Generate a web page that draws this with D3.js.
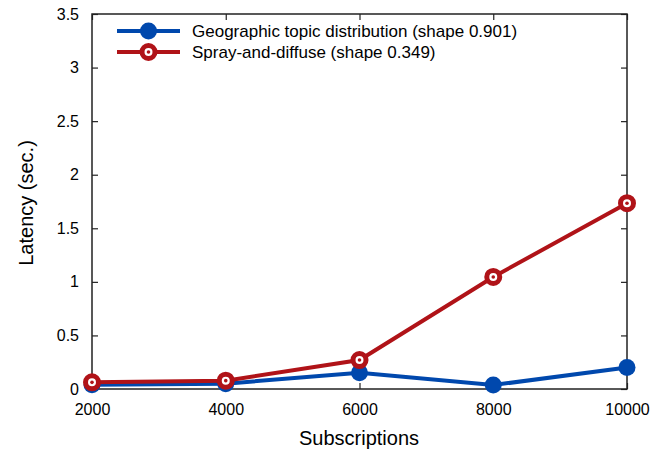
<!DOCTYPE html>
<html><head><meta charset="utf-8">
<script src="https://cdn.jsdelivr.net/npm/d3@7"></script>
<style>body{margin:0;background:#fff}svg{display:block;font-family:"Liberation Sans",Arial,sans-serif}</style>
</head><body><svg id="c" width="664" height="450"></svg>
<script>
const subscriptions = [2000, 4000, 6000, 8000, 10000];
const geoValues = [0.04, 0.05, 0.152, 0.037, 0.20];
const sprayValues = [0.062, 0.078, 0.27, 1.046, 1.734];
const seriesNames = ["Geographic topic distribution (shape 0.901)", "Spray-and-diffuse (shape 0.349)"];
const yTicks = [0, 0.5, 1, 1.5, 2, 2.5, 3, 3.5];

const svg = d3.select("#c");
const m = {l: 92, r: 627, t: 14, b: 389};
const x = d3.scaleLinear().domain([2000, 10000]).range([m.l, m.r]);
const y = d3.scaleLinear().domain([0, 3.5]).range([m.b, m.t]);
const blue = "#0048ad", red = "#b01318";

const g = svg.append("g");
const ax = (sel) => { sel.select(".domain").remove(); sel.selectAll("line").attr("stroke", "#222").attr("stroke-width", 1.2); sel.selectAll("text").attr("fill", "#000").style("font-size", "16px"); };
g.append("g").attr("transform", `translate(0,${m.b})`).call(d3.axisBottom(x).tickValues(subscriptions).tickFormat(d3.format("d")).tickSize(-6).tickPadding(15)).call(ax);
g.append("g").attr("transform", `translate(0,${m.t})`).call(d3.axisTop(x).tickValues(subscriptions).tickFormat("").tickSize(-6)).call(ax);
g.append("g").attr("transform", `translate(${m.l},0)`).call(d3.axisLeft(y).tickValues(yTicks).tickFormat(d => d3.format("")(d)).tickSize(-6).tickPadding(13)).call(ax);
g.append("g").attr("transform", `translate(${m.r},0)`).call(d3.axisRight(y).tickValues(yTicks).tickFormat("").tickSize(-6)).call(ax);
svg.append("rect").attr("x", m.l).attr("y", m.t).attr("width", m.r - m.l).attr("height", m.b - m.t).attr("fill", "none").attr("stroke", "#222").attr("stroke-width", 1.5);

svg.append("text").attr("x", 359).attr("y", 445).attr("text-anchor", "middle").style("font-size", "20px").text("Subscriptions");
svg.append("text").attr("transform", `translate(33,203) rotate(-90)`).attr("text-anchor", "middle").style("font-size", "20px").text("Latency (sec.)");

const line = d3.line().x((d, i) => x(subscriptions[i])).y(d => y(d));
function blueMarker(sel, cx, cy) { sel.append("circle").attr("cx", cx).attr("cy", cy).attr("r", 8.5).attr("fill", blue); }
function redMarker(sel, cx, cy) {
  sel.append("circle").attr("cx", cx).attr("cy", cy).attr("r", 6.5).attr("fill", "#fff").attr("stroke", red).attr("stroke-width", 5);
  sel.append("circle").attr("cx", cx).attr("cy", cy).attr("r", 1.8).attr("fill", red);
}
const plot = svg.append("g");
plot.append("path").datum(geoValues).attr("d", line).attr("fill", "none").attr("stroke", blue).attr("stroke-width", 4);
geoValues.forEach((v, i) => blueMarker(plot, x(subscriptions[i]), y(v)));
plot.append("path").datum(sprayValues).attr("d", line).attr("fill", "none").attr("stroke", red).attr("stroke-width", 4);
sprayValues.forEach((v, i) => redMarker(plot, x(subscriptions[i]), y(v)));

const lg = svg.append("g");
[[blue, blueMarker], [red, redMarker]].forEach(([c, mk], i) => {
  const ly = 31 + i * 21;
  lg.append("line").attr("x1", 117).attr("x2", 180).attr("y1", ly).attr("y2", ly).attr("stroke", c).attr("stroke-width", 4);
  mk(lg, 148.5, ly);
  lg.append("text").attr("x", 192).attr("y", ly + 6).style("font-size", "17px").text(seriesNames[i]);
});
</script></body></html>
